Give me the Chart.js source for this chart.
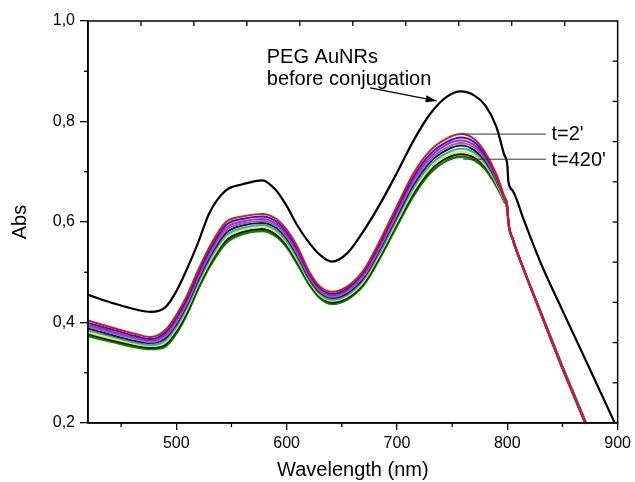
<!DOCTYPE html>
<html><head><meta charset="utf-8">
<script src="https://cdn.jsdelivr.net/npm/chart.js@4/dist/chart.umd.min.js"></script>
<style>html,body{margin:0;padding:0;background:#fff}</style></head>
<body><canvas id="c" width="635" height="482"></canvas>
<script>
// ---- data ----
const wavelengths = [420,445,465,477,490,500,510,520,530,545,560,578,590,600,610,620,630,641,655,670,685,700,715,730,745,758,770,780,790,797,800,801,805,815,830,850,870,890,900];
const pegBefore = [.455,.437,.425,.421,.430,.462,.508,.560,.618,.663,.675,.683,.664,.632,.592,.560,.535,.521,.538,.583,.637,.698,.762,.815,.849,.860,.852,.832,.790,.735,.713,.680,.662,.604,.520,.424,.330,.235,.188];
const tRed     = [.404,.388,.376,.371,.385,.415,.455,.505,.550,.600,.611,.616,.607,.585,.550,.503,.472,.461,.472,.505,.565,.632,.697,.742,.766,.775,.765,.738,.695,.652,.632,.600,.565,.505,.420,.308,.203,.100,.050];
const tBlue    = [.399,.384,.372,.367,.380,.409,.449,.499,.544,.594,.606,.611,.602,.580,.545,.499,.469,.457,.468,.501,.560,.626,.690,.735,.759,.768,.759,.733,.692,.651,.631,.600,.565,.505,.420,.308,.203,.100,.050];
const tMagenta = [.395,.380,.369,.364,.376,.405,.445,.494,.539,.588,.601,.606,.597,.575,.540,.496,.466,.454,.465,.497,.555,.621,.684,.729,.754,.762,.753,.729,.689,.649,.630,.599,.565,.505,.420,.309,.204,.100,.050];
const tOlive   = [.392,.377,.366,.361,.372,.400,.440,.490,.534,.583,.597,.602,.593,.571,.536,.493,.463,.451,.462,.493,.551,.616,.679,.724,.748,.757,.748,.725,.686,.648,.629,.599,.565,.505,.421,.310,.205,.100,.050];
const tNavy    = [.388,.373,.362,.359,.368,.396,.436,.485,.529,.578,.593,.598,.589,.567,.532,.489,.460,.449,.458,.489,.547,.611,.674,.719,.743,.752,.743,.721,.683,.647,.628,.599,.565,.505,.421,.310,.205,.100,.050];
const tCyan    = [.384,.370,.359,.355,.364,.391,.431,.480,.524,.573,.588,.594,.584,.562,.527,.486,.457,.445,.455,.486,.542,.606,.668,.713,.737,.746,.738,.717,.680,.646,.627,.599,.565,.505,.421,.311,.206,.100,.050];
const tYellow  = [.380,.366,.356,.353,.360,.387,.427,.476,.519,.568,.584,.590,.580,.558,.523,.483,.454,.443,.452,.482,.538,.601,.662,.707,.732,.740,.733,.713,.677,.644,.627,.598,.565,.505,.421,.311,.206,.100,.050];
const tBlack   = [.377,.363,.353,.350,.356,.382,.422,.472,.515,.563,.580,.586,.576,.554,.519,.480,.452,.440,.449,.479,.534,.597,.657,.702,.727,.735,.728,.709,.675,.643,.626,.598,.565,.505,.422,.312,.207,.100,.050];
const tGreen   = [.373,.360,.350,.347,.352,.378,.418,.467,.510,.558,.576,.582,.572,.550,.515,.477,.449,.437,.446,.475,.530,.592,.652,.697,.722,.730,.723,.705,.672,.642,.625,.598,.566,.505,.422,.312,.207,.100,.050];

const xTickValues = [500,600,700,800,900];
const xMinorValues = [450,550,650,750,850];
const yTickValues = [0.2,0.4,0.6,0.8,1.0];
const yMinorValues = [0.3,0.5,0.7,0.9];
const annotLabel1 = 'PEG AuNRs';
const annotLabel2 = 'before conjugation';
const firstTimeLabel = "t=2'";
const lastTimeLabel = "t=420'";

// ---- build chart ----
const FONT = "'Liberation Sans', Arial, sans-serif";
const series = [
  {name:'PEG AuNRs before conjugation', data:pegBefore, color:'#000000', w:2.2},
  {name:"t=2'", data:tRed, color:'#e8121a', w:2},
  {name:'blue', data:tBlue, color:'#1818ff', w:2},
  {name:'magenta', data:tMagenta, color:'#c020c8', w:2},
  {name:'olive', data:tOlive, color:'#8a7d55', w:2},
  {name:'navy', data:tNavy, color:'#14146e', w:2},
  {name:'cyan', data:tCyan, color:'#20b4c8', w:2},
  {name:'yellow', data:tYellow, color:'#f2f000', w:2},
  {name:'black', data:tBlack, color:'#111111', w:2},
  {name:"t=420'", data:tGreen, color:'#0a7d0a', w:2.4}
];
const datasets = series.map(s => ({
  label: s.name,
  data: wavelengths.map((w,i) => ({x:w, y:s.data[i]})),
  borderColor: s.color, borderWidth: s.w, pointRadius: 0,
  cubicInterpolationMode: 'monotone', fill:false, clip: 0
}));

const decor = {
  id:'decor',
  afterDraw(chart){
    const {ctx, chartArea:a, scales:{x,y}} = chart;
    ctx.save();
    ctx.strokeStyle='#000'; ctx.lineWidth=1.5;
    ctx.strokeRect(a.left, a.top, a.right-a.left, a.bottom-a.top);
    ctx.lineWidth=1.3;
    const seg=(x1,y1,x2,y2)=>{ctx.beginPath();ctx.moveTo(x1,y1);ctx.lineTo(x2,y2);ctx.stroke();};
    xMinorValues.forEach(v=>{const p=x.getPixelForValue(v); seg(p,a.bottom,p,a.bottom+4);});
    yMinorValues.forEach(v=>{const p=y.getPixelForValue(v); seg(a.left-4,p,a.left,p);});
    for(let k=1;k<10;k++){
      const px=x.getPixelForValue(x.min+(x.max-x.min)*k/10);
      seg(px,a.top,px,a.top+5);
      const py=y.getPixelForValue(y.min+(y.max-y.min)*k/10);
      seg(a.right-5,py,a.right,py);
    }
    ctx.fillStyle='#000';
    ctx.font='20px '+FONT;
    ctx.textBaseline='alphabetic'; ctx.textAlign='left';
    ctx.fillText(annotLabel1, x.getPixelForValue(582), y.getPixelForValue(0.916));
    ctx.fillText(annotLabel2, x.getPixelForValue(582), y.getPixelForValue(0.873));
    const x1=x.getPixelForValue(675.7), y1=y.getPixelForValue(0.867);
    const x2=x.getPixelForValue(736), y2=y.getPixelForValue(0.841);
    ctx.lineWidth=1.2;
    seg(x1,y1,x2,y2);
    const ang=Math.atan2(y2-y1,x2-x1), L=11, H=3.5;
    ctx.beginPath();
    ctx.moveTo(x2,y2);
    ctx.lineTo(x2-L*Math.cos(ang)+H*Math.sin(ang), y2-L*Math.sin(ang)-H*Math.cos(ang));
    ctx.lineTo(x2-L*Math.cos(ang)-H*Math.sin(ang), y2-L*Math.sin(ang)+H*Math.cos(ang));
    ctx.closePath(); ctx.fill();
    ctx.strokeStyle='#333'; ctx.lineWidth=1;
    const yA=y.getPixelForValue(0.775), yB=y.getPixelForValue(0.725);
    seg(x.getPixelForValue(758.6), yA, x.getPixelForValue(835), yA);
    seg(x.getPixelForValue(760), yB, x.getPixelForValue(835), yB);
    ctx.fillText(firstTimeLabel, x.getPixelForValue(840), y.getPixelForValue(0.763));
    ctx.fillText(lastTimeLabel, x.getPixelForValue(840), y.getPixelForValue(0.711));
    ctx.restore();
  }
};

new Chart(document.getElementById('c'), {
  type:'line',
  data:{datasets},
  plugins:[decor],
  options:{
    responsive:false, animation:false,
    layout:{padding:{top:21,right:12,left:0,bottom:0}},
    plugins:{legend:{display:false}, tooltip:{enabled:false}},
    scales:{
      x:{
        type:'linear', min:420, max:900,
        afterBuildTicks:s=>{s.ticks=xTickValues.map(v=>({value:v}));},
        afterFit:s=>{s.height=59;},
        grid:{drawOnChartArea:false, drawTicks:true, tickLength:7, color:'#000', lineWidth:1.3},
        border:{display:true, color:'#000', width:1.5},
        ticks:{font:{family:FONT,size:16}, color:'#000', padding:4, maxRotation:0, autoSkip:false},
        title:{display:true, text:'Wavelength (nm)', font:{family:FONT,size:20}, color:'#000', padding:{top:0,bottom:0}}
      },
      y:{
        type:'linear', min:0.2, max:1.0,
        afterBuildTicks:s=>{s.ticks=yTickValues.map(v=>({value:v}));},
        afterFit:s=>{s.width=88;},
        grid:{drawOnChartArea:false, drawTicks:true, tickLength:8, color:'#000', lineWidth:1.3},
        border:{display:true, color:'#000', width:1.5},
        ticks:{font:{family:FONT,size:16}, color:'#000', padding:5,
          callback:v=>Number(v).toFixed(1).replace('.',',')},
        title:{display:true, text:'Abs', font:{family:FONT,size:20}, color:'#000', padding:{top:8,bottom:0}}
      }
    }
  }
});
</script>
</body></html>
